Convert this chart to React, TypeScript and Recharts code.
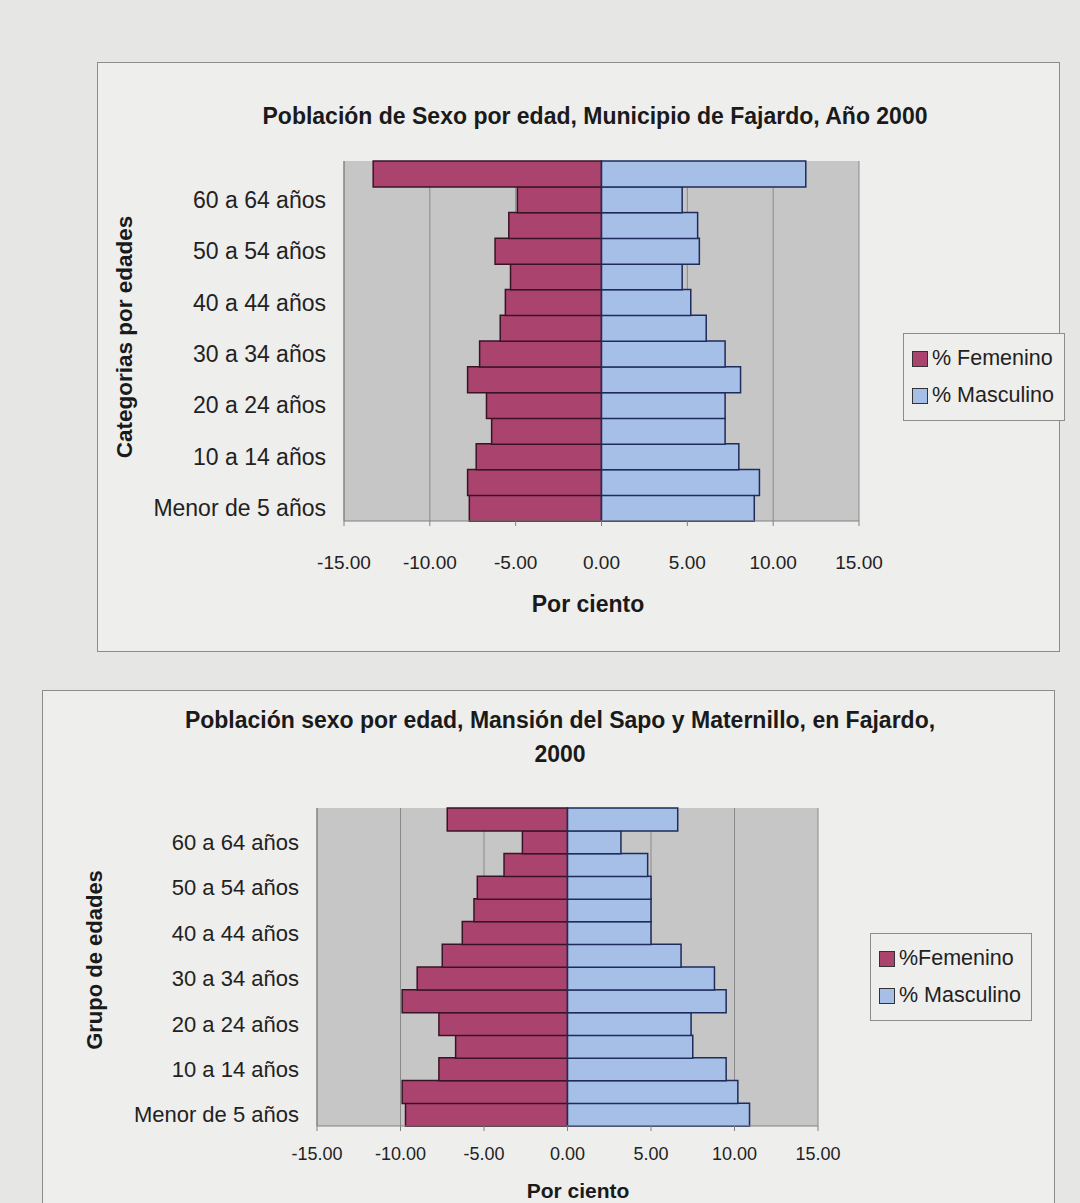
import { BarChart, Bar, XAxis, YAxis, CartesianGrid } from "recharts"

// age groups, bottom to top (the top one carries no label in the original)
const ageGroups = [
  "Menor de 5 años",
  "5 a 9 años",
  "10 a 14 años",
  "15 a 19 años",
  "20 a 24 años",
  "25 a 29 años",
  "30 a 34 años",
  "35 a 39 años",
  "40 a 44 años",
  "45 a 49 años",
  "50 a 54 años",
  "55 a 59 años",
  "60 a 64 años",
  "65 años o más",
]

// Municipio de Fajardo
const femeninoFajardo = [7.7, 7.8, 7.3, 6.4, 6.7, 7.8, 7.1, 5.9, 5.6, 5.3, 6.2, 5.4, 4.9, 13.3]
const masculinoFajardo = [8.9, 9.2, 8.0, 7.2, 7.2, 8.1, 7.2, 6.1, 5.2, 4.7, 5.7, 5.6, 4.7, 11.9]

// Mansión del Sapo y Maternillo
const femeninoSapo = [9.7, 9.9, 7.7, 6.7, 7.7, 9.9, 9.0, 7.5, 6.3, 5.6, 5.4, 3.8, 2.7, 7.2]
const masculinoSapo = [10.9, 10.2, 9.5, 7.5, 7.4, 9.5, 8.8, 6.8, 5.0, 5.0, 5.0, 4.8, 3.2, 6.6]

const xTicks = [-15, -10, -5, 0, 5, 10, 15]

const FONT = "'Liberation Sans', Arial, sans-serif"
const FEM = "#ab436f"
const MASC = "#a6bfe6"

const buildRows = (fem: number[], masc: number[]) =>
  ageGroups.map((age, i) => ({ age, fem: -fem[i], masc: masc[i] }))

const fmt = (v: number) => v.toFixed(2)

function Pyramid(props: {
  fem: number[]
  masc: number[]
  width: number
  height: number
  margin: { top: number; right: number; bottom: number; left: number }
  yWidth: number
  xHeight: number
  xTickMargin: number
  yFont: number
  xFont: number
}) {
  const rows = buildRows(props.fem, props.masc)
  return (
    <BarChart
      width={props.width}
      height={props.height}
      data={rows}
      layout="vertical"
      stackOffset="sign"
      barCategoryGap={0}
      margin={props.margin}
    >
      <CartesianGrid horizontal={false} fill="#c6c6c6" stroke="#8a8a8a" />
      <XAxis
        type="number"
        domain={[-15, 15]}
        ticks={xTicks}
        tickFormatter={fmt}
        height={props.xHeight}
        tickSize={5}
        tickMargin={props.xTickMargin}
        stroke="#808080"
        tick={{ fill: "#222", fontSize: props.xFont, fontFamily: FONT }}
      />
      <YAxis
        type="category"
        dataKey="age"
        reversed
        interval={1}
        width={props.yWidth}
        tickLine={false}
        tickMargin={12}
        stroke="#808080"
        tick={{ fill: "#222", fontSize: props.yFont, fontFamily: FONT }}
      />
      <Bar dataKey="fem" stackId="p" fill={FEM} stroke="#3a1426" strokeWidth={1.5} isAnimationActive={false} />
      <Bar dataKey="masc" stackId="p" fill={MASC} stroke="#1e2b5c" strokeWidth={1.5} isAnimationActive={false} />
    </BarChart>
  )
}

function LegendBox({ left, top, femLabel }: { left: number; top: number; femLabel: string }) {
  const item = (color: string, label: string) => (
    <div style={{ display: "flex", alignItems: "center", height: 37 }}>
      <span
        style={{
          width: 14,
          height: 14,
          background: color,
          border: "1.5px solid #333",
          marginRight: 4,
          display: "inline-block",
        }}
      />
      <span>{label}</span>
    </div>
  )
  return (
    <div
      style={{
        position: "absolute",
        left,
        top,
        padding: "6px 10px 6px 8px",
        border: "1px solid #8c8c8c",
        fontFamily: FONT,
        fontSize: 21.5,
        color: "#222",
        background: "#eeeeec",
      }}
    >
      {item(FEM, femLabel)}
      {item(MASC, "% Masculino")}
    </div>
  )
}

const abs = (left: number, top: number, extra: any = {}) => ({
  position: "absolute" as const,
  left,
  top,
  fontFamily: FONT,
  color: "#1a1a1a",
  ...extra,
})

export default function App() {
  return (
    <div
      style={{
        position: "fixed",
        left: 0,
        top: 0,
        width: 1080,
        height: 1203,
        overflow: "hidden",
        background: "#e6e6e4",
      }}
    >
      {/* frame 1 */}
      <div
        style={{
          position: "absolute",
          left: 97,
          top: 62,
          width: 963,
          height: 590,
          border: "1.5px solid #8c8c8c",
          background: "#eeeeec",
          boxSizing: "border-box",
        }}
      >
        <Pyramid
          fem={femeninoFajardo}
          masc={masculinoFajardo}
          width={963}
          height={590}
          margin={{ top: 98, right: 202, bottom: 71, left: 0 }}
          yWidth={246}
          xHeight={61}
          xTickMargin={30}
          yFont={23}
          xFont={19}
        />
      </div>
      <div style={abs(0, 103, { width: 1190, textAlign: "center", fontWeight: "bold", fontSize: 23 })}>
        Población de Sexo por edad, Municipio de Fajardo, Año 2000
      </div>
      <div style={abs(0, 591, { width: 1176, textAlign: "center", fontWeight: "bold", fontSize: 23 })}>
        Por ciento
      </div>
      <div
        style={abs(125, 337, {
          fontWeight: "bold",
          fontSize: 22.5,
          whiteSpace: "nowrap",
          transform: "translate(-50%, -50%) rotate(-90deg)",
        })}
      >
        Categorias por edades
      </div>
      <LegendBox left={903} top={333} femLabel="% Femenino" />

      {/* frame 2 */}
      <div
        style={{
          position: "absolute",
          left: 42,
          top: 690,
          width: 1013,
          height: 540,
          border: "1.5px solid #8c8c8c",
          background: "#eeeeec",
          boxSizing: "border-box",
        }}
      >
        <Pyramid
          fem={femeninoSapo}
          masc={masculinoSapo}
          width={1013}
          height={513}
          margin={{ top: 117, right: 238, bottom: 28, left: 0 }}
          yWidth={274}
          xHeight={50}
          xTickMargin={16}
          yFont={22}
          xFont={18}
        />
      </div>
      <div style={abs(0, 703, { width: 1120, textAlign: "center", fontWeight: "bold", fontSize: 23, lineHeight: "34px" })}>
        Población sexo por edad, Mansión del Sapo y Maternillo, en Fajardo,
        <br />
        2000
      </div>
      <div style={abs(0, 1180, { width: 1156, textAlign: "center", fontWeight: "bold", fontSize: 21, lineHeight: "22px" })}>
        Por ciento
      </div>
      <div
        style={abs(95, 960, {
          fontWeight: "bold",
          fontSize: 22,
          whiteSpace: "nowrap",
          transform: "translate(-50%, -50%) rotate(-90deg)",
        })}
      >
        Grupo de edades
      </div>
      <LegendBox left={870} top={933} femLabel="%Femenino" />
    </div>
  )
}
